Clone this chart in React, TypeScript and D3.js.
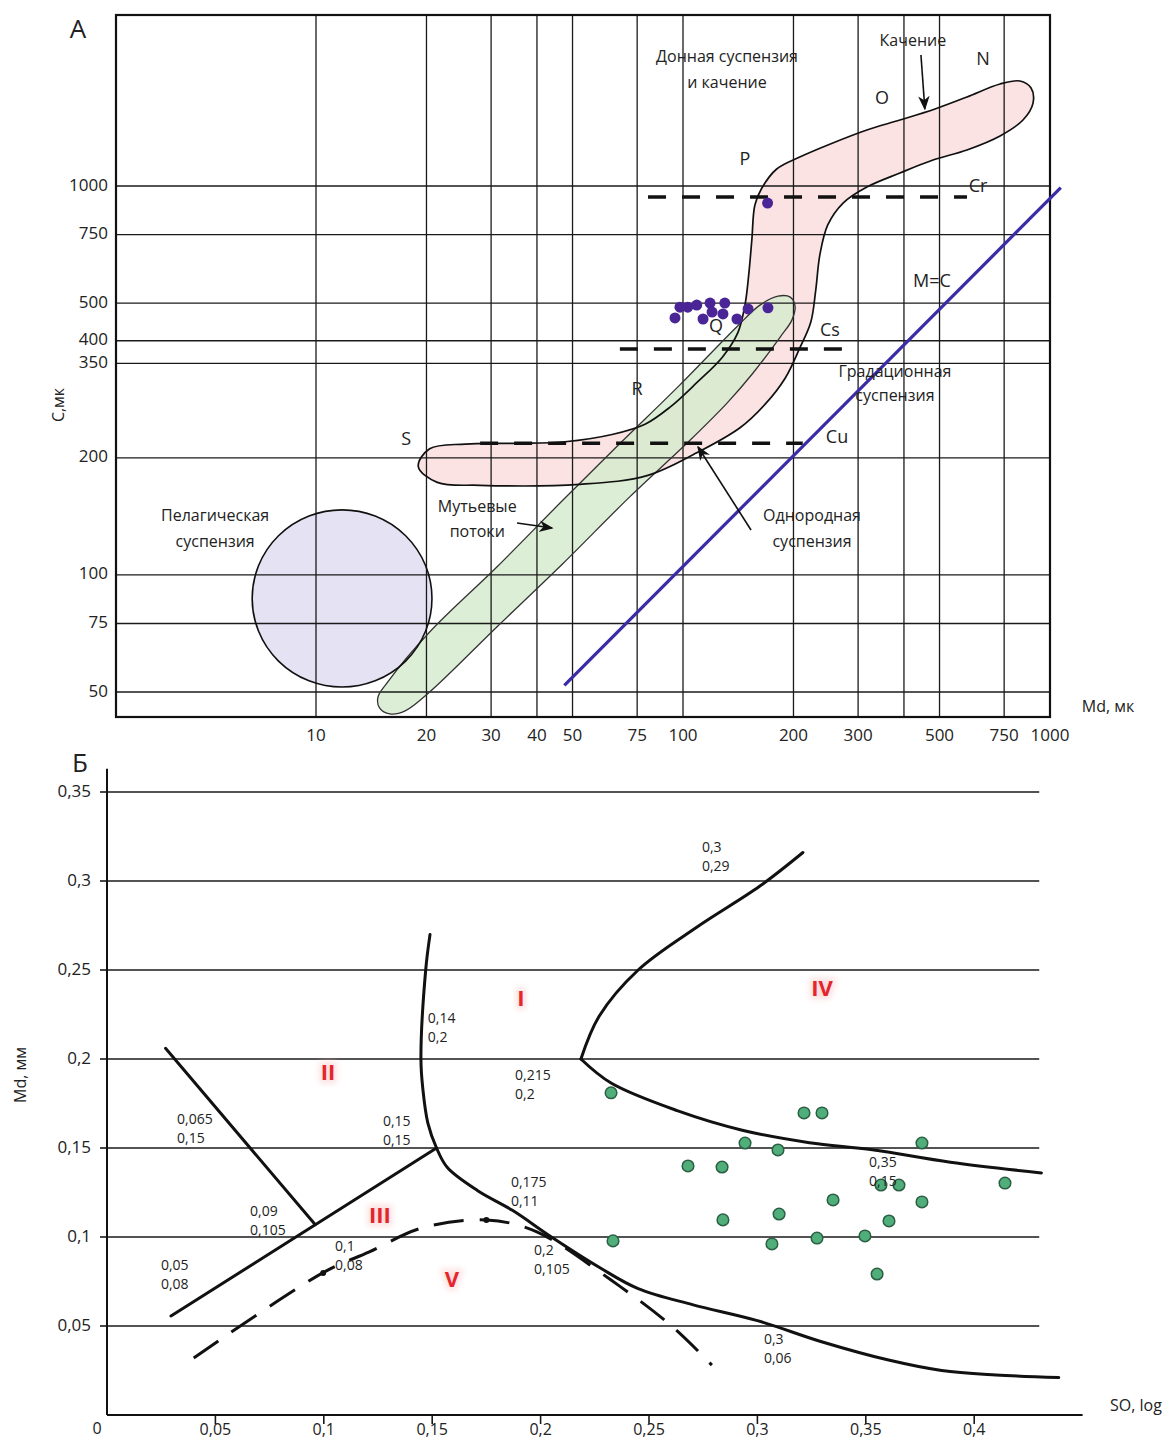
import React from "react";
import * as d3 from "d3";

type Pt = [number, number];

const FONT = "'Open Sans', 'Noto Sans', sans-serif";

// ---------- А: C–M diagram (log–log) ----------
const mdGrid = [10, 20, 30, 40, 50, 75, 100, 200, 300, 400, 500, 750, 1000];
const mdTickLabels = ["10", "20", "30", "40", "50", "75", "100", "200", "300", "", "500", "750", "1000"];
const cGrid = [1000, 750, 500, 400, 350, 200, 100, 75, 50];
const cTickLabels = ["1000", "750", "500", "400", "350", "200", "100", "75", "50"];

// outline of the N-O-P-Q-R-S field (Md, C)
const fieldOutline: Pt[] = [
  [19.0, 190], [20.4, 211], [25.5, 217], [34.9, 218], [47.7, 220], [64.5, 230],
  [78.8, 244], [92.2, 270], [109, 312], [128, 363], [141, 419], [147.5, 494],
  [151, 590], [154, 726], [157, 894], [164, 988], [180, 1106], [208, 1187],
  [256, 1290], [317, 1393], [390, 1478], [486, 1578], [594, 1694], [731, 1829],
  [828, 1862], [888, 1786], [899, 1634], [844, 1478], [731, 1345], [594, 1238],
  [480, 1166], [390, 1080], [317, 994], [273, 904], [248, 794], [236, 665],
  [230, 540], [223, 447], [208, 383], [190, 321], [167, 274], [143, 239],
  [109, 206], [79.8, 180], [52.4, 171], [28, 170], [21.4, 173],
];

// turbidity currents band
const turbidityBand: Pt[] = [
  [14.75, 48.5], [15.6, 52.7], [20.4, 71.3], [31.1, 104.8], [47.1, 155.8],
  [67.4, 218], [98.1, 308], [140, 434], [162, 494], [181.5, 521], [196, 518],
  [202, 491], [198, 452], [184, 409], [155, 330], [132, 277], [104.5, 222],
  [71.7, 159], [47.1, 107], [31.1, 73.5], [20.4, 50], [17.5, 44.7], [15.9, 43.9],
  [14.9, 45.5],
];

// pelagic suspension circle: extents in Md and C
const pelagicMd: Pt = [6.7, 20.7];
const pelagicC: Pt = [51.5, 147];

// sample points (purple)
const sampleMd = [170, 98.1, 103, 109, 118.5, 130, 95.1, 120, 128.5, 113.4, 140.3, 150.4, 170.4];
const sampleC = [904, 488, 488, 494, 500, 500, 458, 474, 469, 455, 455, 483, 486];

// dashed limits: C value, Md from, Md to
const limitNames = ["Cr", "Cs", "Cu"];
const limitC = [937, 381, 218];
const limitFrom = [80.3, 67.3, 28];
const limitTo = [594, 291, 212];

// M = C line
const mcLine: Pt[] = [[47.5, 52], [1070, 990]];

// letter labels
const letterText = ["N", "O", "P", "Cr", "M=C", "Q", "Cs", "R", "S", "Cu"];
const letterMd = [657, 348.5, 147.5, 636.6, 477, 123, 251.5, 74.9, 17.6, 262.8];
const letterC = [2109, 1674, 1166, 994, 566, 434, 424, 299, 222, 225];

// text annotations
const noteText = [
  "Донная суспензия", "и качение", "Качение", "Градационная", "суспензия",
  "Пелагическая", "суспензия", "Мутьевые", "потоки", "Однородная", "суспензия",
];
const noteMd = [131.8, 131.8, 423, 378, 378, 5.31, 5.31, 27.5, 27.5, 224.7, 224.7];
const noteC = [2134, 1829, 2346, 332, 287, 141, 121, 148.6, 128.2, 140.9, 120.8];

// arrows [from, to]
const arrowsA: [Pt, Pt][] = [
  [[445, 2172], [456, 1578]],
  [[35.3, 136], [44, 132]],
  [[153.2, 130.5], [109.9, 213.3]],
];

// ---------- Б: SO – Md diagram ----------
const soTicks = [0.05, 0.1, 0.15, 0.2, 0.25, 0.3, 0.35, 0.4];
const soTickLabels = ["0,05", "0,1", "0,15", "0,2", "0,25", "0,3", "0,35", "0,4"];
const mdmmTicks = [0.05, 0.1, 0.15, 0.2, 0.25, 0.3, 0.35];
const mdmmTickLabels = ["0,05", "0,1", "0,15", "0,2", "0,25", "0,3", "0,35"];

const lineII: Pt[] = [[0.027, 0.206], [0.096, 0.107]];
const lineIII: Pt[] = [[0.0295, 0.0556], [0.152, 0.15]];
const curveI: Pt[] = [
  [0.149, 0.27], [0.147, 0.25], [0.1448, 0.2], [0.1457, 0.183], [0.148, 0.164],
  [0.152, 0.15], [0.157, 0.139], [0.171, 0.126], [0.187, 0.115], [0.205, 0.1],
  [0.227, 0.083], [0.245, 0.071], [0.27, 0.062], [0.3, 0.053], [0.33, 0.041],
  [0.36, 0.031], [0.385, 0.025], [0.41, 0.0225], [0.439, 0.021],
];
const curveIVupper: Pt[] = [
  [0.2186, 0.2], [0.227, 0.224], [0.245, 0.25], [0.272, 0.274], [0.301, 0.297], [0.321, 0.316],
];
const curveIVlower: Pt[] = [
  [0.2186, 0.2], [0.2325, 0.1865], [0.263, 0.171], [0.293, 0.16], [0.324, 0.153],
  [0.353, 0.149], [0.389, 0.142], [0.431, 0.136],
];
const curveV: Pt[] = [
  [0.04, 0.032], [0.0997, 0.08], [0.121, 0.0916], [0.145, 0.105], [0.175, 0.1096],
  [0.198, 0.103], [0.2325, 0.0758], [0.261, 0.0494], [0.279, 0.028],
];
const curveVDots: Pt[] = [[0.0997, 0.0798], [0.175, 0.1096]];

const pointSO = [
  0.2325, 0.3215, 0.3298, 0.2943, 0.3095, 0.3759, 0.268, 0.2837, 0.357, 0.3653, 0.4142,
  0.3349, 0.3759, 0.31, 0.3607, 0.2841, 0.2334, 0.3067, 0.3275, 0.3496, 0.3552,
];
const pointMd = [
  0.181, 0.1697, 0.1697, 0.1528, 0.1489, 0.1528, 0.1399, 0.1393, 0.1292, 0.1292, 0.1303,
  0.1208, 0.1197, 0.1129, 0.109, 0.1096, 0.0978, 0.0961, 0.0994, 0.1006, 0.0792,
];

const valueLabels = [
  ["0,3", "0,29"], ["0,14", "0,2"], ["0,215", "0,2"], ["0,065", "0,15"],
  ["0,15", "0,15"], ["0,175", "0,11"], ["0,09", "0,105"], ["0,1", "0,08"],
  ["0,05", "0,08"], ["0,2", "0,105"], ["0,3", "0,06"], ["0,35", "0,15"],
];
const valueSO = [0.2744, 0.148, 0.1882, 0.0323, 0.1273, 0.1863, 0.066, 0.1052, 0.0249, 0.197, 0.303, 0.3515];
const valueMd = [0.3185, 0.2225, 0.1904, 0.1657, 0.1646, 0.1303, 0.114, 0.0944, 0.0837, 0.0921, 0.0421, 0.1416];

const zoneText = ["I", "II", "III", "IV", "V"];
const zoneSO = [0.1909, 0.1019, 0.1259, 0.3298, 0.1591];
const zoneMd = [0.2331, 0.1916, 0.1112, 0.2388, 0.0753];

export default function App() {
  // scales A
  const xA = d3.scaleLog().domain([10, 1000]).range([316, 1050]);
  const yA = d3.scaleLog().domain([50, 1000]).range([692, 186]);
  const aLeft = 116;
  const aTop = 15;
  const aBottom = 717;
  const aRight = xA(1000);

  const lineA = d3.line<Pt>().x((d) => xA(d[0])).y((d) => yA(d[1]));
  const closedA = d3
    .line<Pt>()
    .x((d) => xA(d[0]))
    .y((d) => yA(d[1]))
    .curve(d3.curveCatmullRomClosed.alpha(0.5));

  const pcx = xA(Math.sqrt(pelagicMd[0] * pelagicMd[1]));
  const prx = (xA(pelagicMd[1]) - xA(pelagicMd[0])) / 2;
  const pcy = (yA(pelagicC[0]) + yA(pelagicC[1])) / 2;
  const pry = (yA(pelagicC[0]) - yA(pelagicC[1])) / 2;

  // scales Б
  const xB = d3.scaleLinear().domain([0, 0.45]).range([107, 1082.6]);
  const yB = d3.scaleLinear().domain([0, 0.35]).range([1415, 792]);
  const curveB = d3
    .line<Pt>()
    .x((d) => xB(d[0]))
    .y((d) => yB(d[1]))
    .curve(d3.curveCatmullRom.alpha(0.5));

  return (
    <svg
      width={1171}
      height={1446}
      style={{ position: "absolute", left: 0, top: 0, background: "#fff" }}
      fontFamily={FONT}
    >
      <defs>
        <marker id="arr" viewBox="0 0 10 10" refX="9" refY="5" markerWidth="9" markerHeight="9" orient="auto">
          <path d="M0,1 L10,5 L0,9 L3,5 Z" fill="#111" />
        </marker>
        <clipPath id="clipA">
          <rect x={aLeft} y={aTop} width={aRight - aLeft} height={aBottom - aTop} />
        </clipPath>
        <filter id="glow" x="-50%" y="-50%" width="200%" height="200%">
          <feGaussianBlur stdDeviation="3" />
        </filter>
      </defs>

      {/* ===== A ===== */}
      <text x={78} y={38} fontSize={26} textAnchor="middle" fill="#222">А</text>

      {/* fills */}
      <g clipPath="url(#clipA)">
        <path d={closedA(fieldOutline) || ""} fill="#f9d9d9" opacity={0.75} />
        <path d={closedA(turbidityBand) || ""} fill="#d6ebcf" opacity={0.85} />
        <ellipse cx={pcx} cy={pcy} rx={prx} ry={pry} fill="#e5e3f3" />
      </g>

      {/* grid */}
      <g stroke="#1a1a1a" strokeWidth={1.3}>
        {mdGrid.map((v) => (
          <line key={"vx" + v} x1={xA(v)} x2={xA(v)} y1={aTop} y2={aBottom} />
        ))}
        {cGrid.map((v) => (
          <line key={"hy" + v} x1={aLeft} x2={aRight} y1={yA(v)} y2={yA(v)} />
        ))}
      </g>
      <rect x={aLeft} y={aTop} width={aRight - aLeft} height={aBottom - aTop} fill="none" stroke="#111" strokeWidth={2.2} />

      {/* tick labels */}
      <g fontSize={17} fill="#222">
        {cGrid.map((v, i) => (
          <text key={"cl" + v} x={108} y={yA(v)} textAnchor="end" dominantBaseline="middle">
            {cTickLabels[i]}
          </text>
        ))}
        {mdGrid.map((v, i) => (
          <text key={"ml" + v} x={xA(v)} y={736} textAnchor="middle" dominantBaseline="middle">
            {mdTickLabels[i]}
          </text>
        ))}
      </g>
      <text x={1108} y={712} fontSize={16} textAnchor="middle" fill="#222">Md, мк</text>
      <text transform="translate(64,405) rotate(-90)" fontSize={16} textAnchor="middle" fill="#222">C,мк</text>

      {/* outlines */}
      <g clipPath="url(#clipA)">
        <path d={closedA(turbidityBand) || ""} fill="none" stroke="#333" strokeWidth={1.3} />
        <path d={closedA(fieldOutline) || ""} fill="none" stroke="#111" strokeWidth={1.7} />
        <ellipse cx={pcx} cy={pcy} rx={prx} ry={pry} fill="none" stroke="#111" strokeWidth={1.6} />
      </g>

      {/* dashed limits */}
      <g stroke="#111" strokeWidth={3.5} strokeDasharray="18 16">
        {limitNames.map((n, i) => (
          <line key={n} x1={xA(limitFrom[i])} x2={xA(limitTo[i])} y1={yA(limitC[i])} y2={yA(limitC[i])} />
        ))}
      </g>

      {/* M = C */}
      <path d={lineA(mcLine) || ""} stroke="#3a2ca6" strokeWidth={3.2} fill="none" />

      {/* samples */}
      <g fill="#4a2596">
        {sampleMd.map((m, i) => (
          <circle key={"s" + i} cx={xA(m)} cy={yA(sampleC[i])} r={5.5} />
        ))}
      </g>

      {/* arrows */}
      <g stroke="#111" strokeWidth={1.6}>
        {arrowsA.map((a, i) => (
          <line key={"ar" + i} x1={xA(a[0][0])} y1={yA(a[0][1])} x2={xA(a[1][0])} y2={yA(a[1][1])} markerEnd="url(#arr)" />
        ))}
      </g>

      {/* labels */}
      <g fontSize={18} fill="#222" textAnchor="middle" dominantBaseline="middle">
        {letterText.map((t, i) => (
          <text key={"lt" + i} x={xA(letterMd[i])} y={yA(letterC[i])}>{t}</text>
        ))}
      </g>
      <g fontSize={16} fill="#222" textAnchor="middle" dominantBaseline="middle">
        {noteText.map((t, i) => (
          <text key={"nt" + i} x={xA(noteMd[i])} y={yA(noteC[i])}>{t}</text>
        ))}
      </g>

      {/* ===== Б ===== */}
      <text x={80} y={772} fontSize={26} textAnchor="middle" fill="#222">Б</text>

      <g stroke="#1a1a1a" strokeWidth={1.6}>
        {mdmmTicks.map((v) => (
          <line key={"bg" + v} x1={xB(0)} x2={xB(0.43)} y1={yB(v)} y2={yB(v)} />
        ))}
        {mdmmTicks.map((v) => (
          <line key={"bt" + v} x1={xB(0) - 7} x2={xB(0)} y1={yB(v)} y2={yB(v)} />
        ))}
        {soTicks.map((v) => (
          <line key={"bx" + v} x1={xB(v)} x2={xB(v)} y1={yB(0)} y2={yB(0) + 9} />
        ))}
      </g>
      <line x1={xB(0)} x2={xB(0)} y1={yB(0.363)} y2={yB(0)} stroke="#111" strokeWidth={2} />
      <line x1={xB(0)} x2={xB(0.45)} y1={yB(0)} y2={yB(0)} stroke="#111" strokeWidth={2} />

      <g fontSize={17} fill="#222">
        {mdmmTicks.map((v, i) => (
          <text key={"by" + v} x={91} y={yB(v)} textAnchor="end" dominantBaseline="middle">
            {mdmmTickLabels[i]}
          </text>
        ))}
      </g>
      <g fontSize={16} fill="#222">
        {soTicks.map((v, i) => (
          <text key={"bxl" + v} x={xB(v)} y={1431} textAnchor="middle" dominantBaseline="middle">
            {soTickLabels[i]}
          </text>
        ))}
        <text x={97} y={1430} textAnchor="middle" dominantBaseline="middle">0</text>
      </g>
      <text x={1110} y={1411} fontSize={16} fill="#222">SO, log</text>
      <text transform="translate(26,1075) rotate(-90)" fontSize={16} textAnchor="middle" fill="#222">Md, мм</text>

      {/* boundary curves */}
      <g fill="none" stroke="#111" strokeWidth={3} strokeLinecap="round">
        <path d={curveB(lineII) || ""} />
        <path d={curveB(lineIII) || ""} />
        <path d={curveB(curveI) || ""} />
        <path d={curveB(curveIVupper) || ""} />
        <path d={curveB(curveIVlower) || ""} />
        <path d={curveB(curveV) || ""} strokeDasharray="30 16" strokeLinecap="butt" />
      </g>
      <g fill="#111">
        {curveVDots.map((d, i) => (
          <circle key={"vd" + i} cx={xB(d[0])} cy={yB(d[1])} r={3} />
        ))}
      </g>

      {/* points */}
      <g fill="#4fae79" stroke="#2c5f44" strokeWidth={1.5}>
        {pointSO.map((s, i) => (
          <circle key={"p" + i} cx={xB(s)} cy={yB(pointMd[i])} r={5.8} />
        ))}
      </g>

      {/* value labels */}
      <g fontSize={14} fill="#222">
        {valueLabels.map((l, i) => (
          <text key={"vl" + i} x={xB(valueSO[i])} y={yB(valueMd[i])} dominantBaseline="middle">
            <tspan x={xB(valueSO[i])} dy={0}>{l[0]}</tspan>
            <tspan x={xB(valueSO[i])} dy={19}>{l[1]}</tspan>
          </text>
        ))}
      </g>

      {/* zone numerals */}
      <g fontSize={22} fontWeight="bold" textAnchor="middle" dominantBaseline="middle">
        {zoneText.map((t, i) => (
          <text key={"zg" + t} x={xB(zoneSO[i])} y={yB(zoneMd[i])} fill="#f6b8b8" stroke="#f9d0d0" strokeWidth={6} filter="url(#glow)" opacity={0.7}>{t}</text>
        ))}
        {zoneText.map((t, i) => (
          <text key={"z" + t} x={xB(zoneSO[i])} y={yB(zoneMd[i])} fill="#e5242b">{t}</text>
        ))}
      </g>
    </svg>
  );
}
